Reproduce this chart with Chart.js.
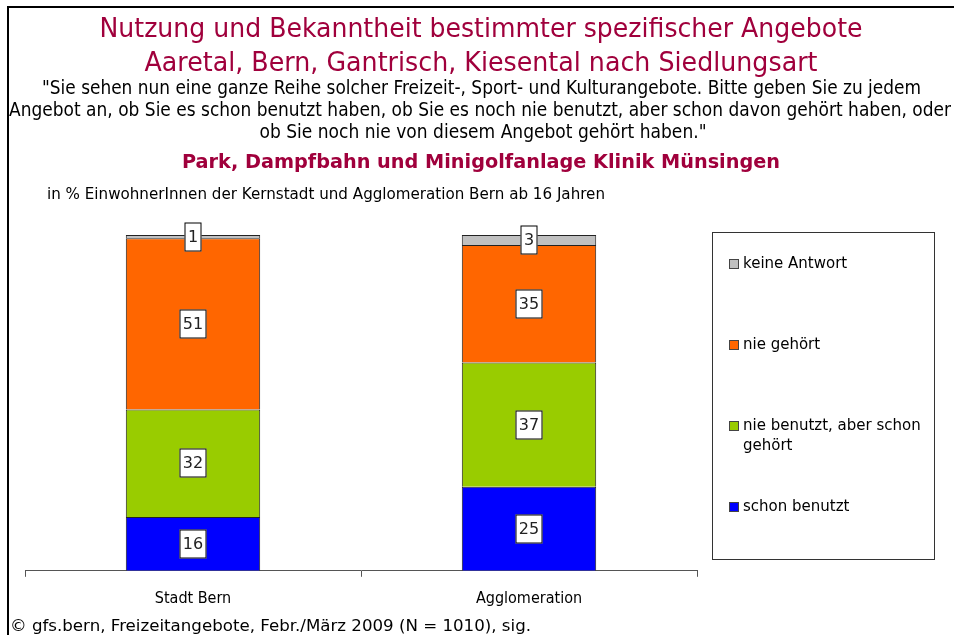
<!DOCTYPE html>
<html lang="de">
<head>
<meta charset="utf-8">
<title>Park, Dampfbahn und Minigolfanlage Klinik Münsingen</title>
<script src="https://cdn.jsdelivr.net/npm/chart.js@4"></script>
<style>
  html, body { margin: 0; padding: 0; background: #fff; }
  #wrap { width: 954px; height: 635px; position: relative; }
</style>
</head>
<body>
<div id="wrap"><canvas id="chart" width="954" height="635"></canvas></div>
<script>
// ===== Daten =====
const kategorien = ["Stadt Bern", "Agglomeration"];
const schonBenutzt = [16, 25];
const nieBenutzt = [32, 37];
const nieGehoert = [51, 35];
const keineAntwort = [1, 3];

const serienNamen = ["schon benutzt", "nie benutzt, aber schon gehört", "nie gehört", "keine Antwort"];
const serienWerte = [schonBenutzt, nieBenutzt, nieGehoert, keineAntwort];
const farben = ["#0000ff", "#99cc00", "#ff6600", "#c0c0c0"];

const titelZeilen = [
  "Nutzung und Bekanntheit bestimmter spezifischer Angebote",
  "Aaretal, Bern, Gantrisch, Kiesental nach Siedlungsart",
];
const frageZeilen = [
  "\"Sie sehen nun eine ganze Reihe solcher Freizeit-, Sport- und Kulturangebote. Bitte geben Sie zu jedem",
  "Angebot an, ob Sie es schon benutzt haben, ob Sie es noch nie benutzt, aber schon davon gehört haben, oder",
  "ob Sie noch nie von diesem Angebot gehört haben.\"",
];
const untertitel = "Park, Dampfbahn und Minigolfanlage Klinik Münsingen";
const basisText = "in % EinwohnerInnen der Kernstadt und Agglomeration Bern ab 16 Jahren";
const quelle = "© gfs.bern, Freizeitangebote, Febr./März 2009 (N = 1010), sig.";

const NARROW = "'DejaVu Sans Condensed', 'Liberation Sans Narrow', sans-serif";
const SANS = "'DejaVu Sans', 'Noto Sans', sans-serif";
const ROT = "#a0003c";

// Text horizontal auf eine Zielbreite stauchen (schmale Schrift wie im Original)
function textGestaucht(ctx, txt, x, y, breite, align) {
  const w = ctx.measureText(txt).width;
  const f = w > 0 ? breite / w : 1;
  ctx.save();
  ctx.textAlign = "left";
  let x0 = x;
  if (align === "center") x0 = x - breite / 2;
  ctx.translate(x0, y);
  ctx.scale(f, 1);
  ctx.fillText(txt, 0, 0);
  ctx.restore();
}

// ===== Rahmen + Texte =====
const textePlugin = {
  id: "texte",
  beforeDraw(chart) {
    const ctx = chart.ctx;
    ctx.save();
    ctx.fillStyle = "#fff";
    ctx.fillRect(0, 0, chart.width, chart.height);

    // Rahmen oben/links
    ctx.fillStyle = "#000";
    ctx.fillRect(7, 6, chart.width - 7, 2);
    ctx.fillRect(7, 6, 2, chart.height - 6);

    ctx.textBaseline = "alphabetic";
    ctx.fillStyle = ROT;
    ctx.font = "26px " + SANS;
    textGestaucht(ctx, titelZeilen[0], 481, 37, 763, "center");
    textGestaucht(ctx, titelZeilen[1], 481, 71, 673, "center");

    ctx.fillStyle = "#000";
    ctx.font = "19px " + SANS;
    textGestaucht(ctx, frageZeilen[0], 481.5, 94, 879, "center");
    textGestaucht(ctx, frageZeilen[1], 480, 116, 942, "center");
    textGestaucht(ctx, frageZeilen[2], 483, 138, 447, "center");

    ctx.fillStyle = ROT;
    ctx.font = "bold 19px " + SANS;
    textGestaucht(ctx, untertitel, 481, 168, 598, "center");

    ctx.fillStyle = "#000";
    ctx.font = "16px " + SANS;
    textGestaucht(ctx, basisText, 47, 199, 558, "left");

    ctx.font = "16px " + SANS;
    textGestaucht(ctx, quelle, 10, 631, 521, "left");
    ctx.restore();
  },
};

// ===== Werte-Etiketten in den Segmenten =====
const etikettenPlugin = {
  id: "etiketten",
  afterDatasetsDraw(chart) {
    const ctx = chart.ctx;
    ctx.save();
    ctx.font = "16px " + SANS;
    ctx.textAlign = "center";
    ctx.textBaseline = "middle";
    chart.data.datasets.forEach((ds, i) => {
      const meta = chart.getDatasetMeta(i);
      meta.data.forEach((el, j) => {
        const txt = String(ds.data[j]);
        const cx = Math.round(el.x);
        const cy = Math.round((el.y + el.base) / 2);
        const w = Math.round(ctx.measureText(txt).width) + 7;
        const h = 29;
        ctx.fillStyle = "#fff";
        ctx.fillRect(cx - w / 2, cy - h / 2, w, h);
        ctx.strokeStyle = "#000";
        ctx.lineWidth = 1;
        ctx.strokeRect(cx - w / 2 + 0.5, cy - h / 2 + 0.5, w - 1, h - 1);
        ctx.fillStyle = "#222";
        ctx.fillText(txt, cx, cy + 1);
      });
    });
    ctx.restore();
  },
};

// ===== Legende (Kasten rechts) =====
const legendePlugin = {
  id: "legende",
  afterDraw(chart, args, opts) {
    const ctx = chart.ctx;
    const box = opts.box;
    ctx.save();
    ctx.strokeStyle = "#333";
    ctx.lineWidth = 1;
    ctx.strokeRect(box.x + 0.5, box.y + 0.5, box.w, box.h);
    ctx.font = "15px " + SANS;
    ctx.textAlign = "left";
    ctx.textBaseline = "middle";
    const ds = chart.data.datasets.slice().reverse();
    ds.forEach((d, i) => {
      const y = opts.firstY + i * opts.step;
      ctx.fillStyle = d.backgroundColor;
      ctx.fillRect(box.x + 17, y - 5, 10, 10);
      ctx.strokeStyle = "#444";
      ctx.strokeRect(box.x + 17.5, y - 4.5, 9, 9);
      ctx.fillStyle = "#000";
      const zeilen = d.label === "nie benutzt, aber schon gehört"
        ? ["nie benutzt, aber schon", "gehört"] : [d.label];
      zeilen.forEach((z, k) => ctx.fillText(z, box.x + 31, y + k * 20));
    });
    ctx.restore();
  },
};

const ctx = document.getElementById("chart").getContext("2d");
new Chart(ctx, {
  type: "bar",
  data: {
    labels: kategorien,
    datasets: serienWerte.map((werte, i) => ({
      label: serienNamen[i],
      data: werte,
      backgroundColor: farben[i],
      borderColor: "#222",
      borderWidth: 1,
      barPercentage: 0.8,
      categoryPercentage: 0.5,
    })),
  },
  options: {
    responsive: false,
    animation: false,
    layout: { padding: { left: 25, right: 257, top: 235, bottom: 15 } },
    scales: {
      x: {
        stacked: true,
        grid: {
          offset: true,
          drawOnChartArea: false,
          drawTicks: true,
          tickLength: 6,
          color: "#555",
        },
        border: { display: true, color: "#555", width: 1 },
        ticks: {
          color: "#000",
          padding: 12,
          font: { family: NARROW, size: 16 },
        },
      },
      y: {
        stacked: true,
        display: false,
        min: 0,
        max: 100,
      },
    },
    plugins: {
      legend: { display: false },
      tooltip: { enabled: false },
      legende: { box: { x: 712, y: 232, w: 222, h: 327 }, firstY: 264, step: 81 },
    },
  },
  plugins: [textePlugin, etikettenPlugin, legendePlugin],
});
</script>
</body>
</html>
